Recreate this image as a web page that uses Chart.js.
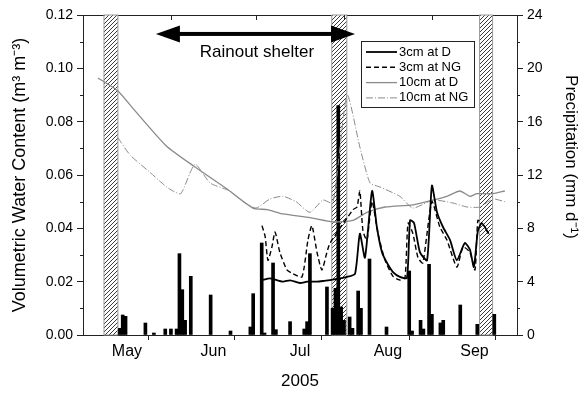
<!DOCTYPE html>
<html>
<head>
<meta charset="utf-8">
<script src="https://cdn.jsdelivr.net/npm/chart.js@4.4.0/dist/chart.umd.min.js"></script>
<style>
  body { margin: 0; background: #fff; }
</style>
</head>
<body>
<canvas id="chart" width="585" height="397"></canvas>
<script>
// x values are days counted from 1 May 2005
const monthStarts = [0, 31, 61, 92, 123, 153];
const monthNames = ['May', 'Jun', 'Jul', 'Aug', 'Sep'];

// periods when the shelter was moved (hatched)
const shelterStart = [7.4, 87.7, 139.8];
const shelterEnd = [12.3, 93.0, 144.4];
// rainout shelter arrow: from / to day, height on the VWC axis
const arrowDays = [25.7, 95.9];
const arrowVwc = 0.1129;

// 3 cm depth, drained plot (D)
const d3Days = [63.1, 66, 70.5, 73, 76.5, 79, 82.5, 85, 87.1, 93.1, 95.9, 97.6, 99.4, 101.9, 103.6, 105.4, 107.2, 109.3, 111.7, 114.2, 115.3, 116.7, 118.8, 121.3, 123.0, 124.8, 126.9, 129.4, 131.8, 134.6, 136.4, 137.8, 139.2, 140.6, 143];
const d3Vwc = [0.0206, 0.0212, 0.020, 0.0205, 0.0195, 0.020, 0.020, 0.0203, 0.0206, 0.0218, 0.023, 0.038, 0.029, 0.054, 0.0405, 0.031, 0.027, 0.0236, 0.0218, 0.0214, 0.043, 0.042, 0.031, 0.028, 0.056, 0.046, 0.0405, 0.0356, 0.028, 0.0345, 0.032, 0.0255, 0.039, 0.042, 0.038];

// 3 cm depth, NG plot
const ng3Days = [63.1, 64.2, 65.2, 66.6, 67.7, 69.4, 71.9, 74.0, 77.2, 79.3, 80.7, 82.5, 84.2, 86.0, 87.1, 95.2, 96.6, 97.6, 98.7, 100.1, 101.9, 104.0, 106.5, 109.3, 111.7, 113.5, 114.6, 116.3, 118.1, 119.8, 123.0, 125.8, 128.3, 131.8, 134.0, 136.4, 138.2, 139.2, 140.6];
const ng3Vwc = [0.041, 0.037, 0.028, 0.033, 0.0386, 0.031, 0.0244, 0.023, 0.0218, 0.0356, 0.041, 0.031, 0.0244, 0.031, 0.0345, 0.047, 0.048, 0.054, 0.039, 0.0356, 0.050, 0.038, 0.028, 0.022, 0.0206, 0.0214, 0.042, 0.038, 0.029, 0.027, 0.050, 0.0405, 0.0356, 0.0255, 0.033, 0.031, 0.0244, 0.043, 0.042];

// 10 cm depth, D plot
const d10Days = [5.3, 12.3, 17.6, 29.3, 39.5, 50.4, 59.9, 65, 70.5, 80.0, 88.1, 95.2, 100.1, 106.5, 116.3, 123.4, 128.3, 132.9, 136.4, 138.9, 144.5, 148.7];
const d10Vwc = [0.0964, 0.0915, 0.085, 0.071, 0.063, 0.055, 0.0476, 0.047, 0.0454, 0.044, 0.0424, 0.043, 0.046, 0.048, 0.0488, 0.0506, 0.052, 0.054, 0.052, 0.053, 0.053, 0.054];

// 10 cm depth, NG plot
const ng10Days = [12.3, 16.6, 23.6, 28.9, 31.7, 34.5, 39.5, 44.8, 51.8, 56.4, 61.0, 65.9, 70.5, 75.1, 80.0, 84.6, 88.1, 93.1, 97.6, 101.2, 104.7, 111.7, 116.3, 123.4, 130.4, 135.4, 139.9, 144.5, 148.7];
const ng10Vwc = [0.074, 0.0675, 0.061, 0.056, 0.054, 0.053, 0.064, 0.057, 0.054, 0.050, 0.0476, 0.051, 0.052, 0.050, 0.046, 0.0506, 0.0495, 0.090, 0.0705, 0.057, 0.0555, 0.052, 0.0476, 0.0506, 0.0495, 0.048, 0.048, 0.051, 0.050];

// daily precipitation (mm)
const rainDays = [13, 14, 15, 22, 25, 29, 31, 33, 34, 35, 36, 38, 45, 52, 59, 60, 63, 64, 67, 68, 73, 78, 79, 80, 86, 88, 89, 90, 91, 92, 94, 95, 97, 98, 101, 107, 115, 116, 119, 120, 122, 123, 126, 127, 133, 139, 145];
const rainMm = [0.5, 1.5, 1.4, 0.9, 0.15, 0.45, 0.45, 0.45, 6.1, 3.4, 1.1, 4.4, 3.0, 0.3, 0.6, 3.1, 6.9, 0.15, 5.4, 0.4, 1.0, 0.45, 1.0, 6.1, 3.6, 2.0, 3.5, 17.2, 2.1, 1.1, 1.35, 0.5, 3.3, 2.0, 5.7, 0.6, 4.8, 0.3, 1.1, 0.45, 5.3, 1.55, 0.9, 1.1, 2.25, 0.8, 1.55];

// minor tick positions
const vwcMinor = [0.01, 0.03, 0.05, 0.07, 0.09, 0.11];
const rainMinor = [2, 6, 10, 14, 18, 22];

const pts = (xs, ys) => xs.map((d, i) => ({ x: d, y: ys[i] }));

// month boundaries carry tick marks, month names sit half way between
const xTickValues = [];
monthStarts.forEach((m, i) => {
    xTickValues.push(m);
    if (i < monthStarts.length - 1) xTickValues.push((m + monthStarts[i + 1]) / 2);
});

function makeHatch() {
    const c = document.createElement('canvas');
    c.width = 4; c.height = 4;
    const g = c.getContext('2d');
    g.fillStyle = '#fff';
    g.fillRect(0, 0, 4, 4);
    g.strokeStyle = '#3a3a3a';
    g.lineWidth = 1;
    g.beginPath();
    g.moveTo(0, 4); g.lineTo(4, 0);
    g.moveTo(-1, 1); g.lineTo(1, -1);
    g.moveTo(3, 5); g.lineTo(5, 3);
    g.stroke();
    return g.createPattern(c, 'repeat');
}

const decorations = {
    id: 'decorations',
    beforeDatasetsDraw(chart) {
        const { ctx, chartArea: a, scales: { x } } = chart;
        const hatch = makeHatch();
        ctx.save();
        shelterStart.forEach((s, i) => {
            const x0 = x.getPixelForValue(s);
            const x1 = x.getPixelForValue(shelterEnd[i]);
            ctx.fillStyle = hatch;
            ctx.fillRect(x0, a.top, x1 - x0, a.bottom - a.top);
            ctx.strokeStyle = '#999';
            ctx.lineWidth = 1;
            ctx.strokeRect(x0, a.top, x1 - x0, a.bottom - a.top);
        });
        ctx.restore();
    },
    afterDraw(chart) {
        const { ctx, chartArea: a, scales: { x, y, yP } } = chart;
        ctx.save();

        // minor ticks and inner ticks on the top frame
        ctx.strokeStyle = '#222';
        ctx.lineWidth = 1;
        ctx.beginPath();
        vwcMinor.forEach(v => {
            const py = Math.round(y.getPixelForValue(v)) + 0.5;
            ctx.moveTo(a.left - 3, py); ctx.lineTo(a.left, py);
        });
        rainMinor.forEach(v => {
            const py = Math.round(yP.getPixelForValue(v)) + 0.5;
            ctx.moveTo(a.right, py); ctx.lineTo(a.right + 3, py);
        });
        monthStarts.slice(1, -1).forEach(d => {
            const px = Math.round(x.getPixelForValue(d)) + 0.5;
            ctx.moveTo(px, a.top); ctx.lineTo(px, a.top + 5);
        });
        ctx.stroke();

        // rainout shelter arrow
        const ax0 = x.getPixelForValue(arrowDays[0]);
        const ax1 = x.getPixelForValue(arrowDays[1]);
        const ay = y.getPixelForValue(arrowVwc);
        const head = 24, half = 8.5;
        ctx.fillStyle = '#000';
        ctx.fillRect(ax0 + head - 1, ay - 2, ax1 - ax0 - 2 * head + 2, 4);
        ctx.beginPath();
        ctx.moveTo(ax0, ay); ctx.lineTo(ax0 + head, ay - half); ctx.lineTo(ax0 + head, ay + half); ctx.closePath();
        ctx.moveTo(ax1, ay); ctx.lineTo(ax1 - head, ay - half); ctx.lineTo(ax1 - head, ay + half); ctx.closePath();
        ctx.fill();
        ctx.font = '17px "Liberation Sans", Arial, sans-serif';
        ctx.textAlign = 'center';
        ctx.textBaseline = 'middle';
        ctx.fillText('Rainout shelter', x.getPixelForValue(61.3), y.getPixelForValue(0.1061));

        // legend box
        const lx = 361, ly = 41, lw = 113, lh = 66;
        ctx.fillStyle = '#fff';
        ctx.fillRect(lx, ly, lw, lh);
        ctx.strokeStyle = '#222';
        ctx.lineWidth = 1;
        ctx.strokeRect(lx + 0.5, ly + 0.5, lw, lh);
        ctx.font = '13px "Liberation Sans", Arial, sans-serif';
        ctx.textAlign = 'left';
        chart.data.datasets.filter(d => d.type === 'line').forEach((d, i) => {
            const py = ly + 11 + i * 15.3;
            ctx.strokeStyle = d.borderColor;
            ctx.lineWidth = d.borderWidth;
            ctx.setLineDash(d.borderDash || []);
            ctx.beginPath();
            ctx.moveTo(lx + 5, py); ctx.lineTo(lx + 36, py);
            ctx.stroke();
            ctx.setLineDash([]);
            ctx.fillStyle = '#000';
            ctx.fillText(d.label, lx + 38, py);
        });

        // right axis title
        ctx.translate(571, 157);
        ctx.rotate(Math.PI / 2);
        ctx.font = '17px "Liberation Sans", Arial, sans-serif';
        ctx.textAlign = 'center';
        ctx.fillText('Precipitation (mm d\u207B\u00B9)', 0, 0);
        ctx.restore();
    }
};

Chart.defaults.font.family = '"Liberation Sans", Arial, sans-serif';
Chart.defaults.color = '#000';

const frame = { color: '#222', width: 1 };

new Chart(document.getElementById('chart'), {
    type: 'bar',
    data: {
        datasets: [
            {
                type: 'line', label: '3cm at D', data: pts(d3Days, d3Vwc), yAxisID: 'y',
                borderColor: '#000', borderWidth: 1.8, pointRadius: 0, tension: 0.2, order: 1
            },
            {
                type: 'line', label: '3cm at NG', data: pts(ng3Days, ng3Vwc), yAxisID: 'y',
                borderColor: '#000', borderWidth: 1.4, borderDash: [5, 3], pointRadius: 0, tension: 0.2, order: 2
            },
            {
                type: 'line', label: '10cm at D', data: pts(d10Days, d10Vwc), yAxisID: 'y',
                borderColor: '#8a8a8a', borderWidth: 1.3, pointRadius: 0, tension: 0.2, order: 3
            },
            {
                type: 'line', label: '10cm at NG', data: pts(ng10Days, ng10Vwc), yAxisID: 'y',
                borderColor: '#8a8a8a', borderWidth: 1, borderDash: [7, 2, 1, 2], pointRadius: 0, tension: 0.2, order: 4
            },
            {
                type: 'bar', label: 'Precipitation', data: pts(rainDays, rainMm), yAxisID: 'yP',
                backgroundColor: '#000', barThickness: 3, borderWidth: 0, order: 5
            }
        ]
    },
    options: {
        responsive: false,
        animation: false,
        devicePixelRatio: 1,
        layout: { padding: 0 },
        plugins: { legend: { display: false }, tooltip: { enabled: false } },
        scales: {
            x: {
                type: 'linear', position: 'bottom', min: 0, max: 153, offset: false,
                afterFit: s => { s.height = 62; },
                afterBuildTicks: s => { s.ticks = xTickValues.map(v => ({ value: v })); },
                ticks: {
                    autoSkip: false, maxRotation: 0, padding: 2,
                    font: { size: 16 },
                    callback: (v, i) => (i % 2 ? monthNames[(i - 1) / 2] : '')
                },
                grid: {
                    drawOnChartArea: false, tickLength: 5,
                    tickColor: ctx => (ctx.index % 2 ? 'transparent' : '#222')
                },
                border: frame,
                title: { display: true, text: '2005', font: { size: 17 }, padding: { bottom: 5 } }
            },
            xTop: {
                type: 'linear', position: 'top', min: 0, max: 153, offset: false,
                afterFit: s => { s.height = 15; },
                ticks: { display: false },
                grid: { drawOnChartArea: false, drawTicks: false },
                border: frame
            },
            y: {
                type: 'linear', position: 'left', min: 0, max: 0.12,
                afterFit: s => { s.width = 83; },
                ticks: { stepSize: 0.02, padding: 4, font: { size: 14 }, callback: v => v.toFixed(2) },
                grid: { drawOnChartArea: false, tickLength: 6, tickColor: '#222' },
                border: frame,
                title: {
                    display: true, text: 'Volumetric Water Content (m\u00B3 m\u207B\u00B3)',
                    font: { size: 18 }, padding: { top: 9 }
                }
            },
            yP: {
                type: 'linear', position: 'right', min: 0, max: 24,
                afterFit: s => { s.width = 68; },
                ticks: { stepSize: 4, padding: 4, font: { size: 14 } },
                grid: { drawOnChartArea: false, tickLength: 6, tickColor: '#222' },
                border: frame
            }
        }
    },
    plugins: [decorations]
});
</script>
</body>
</html>
